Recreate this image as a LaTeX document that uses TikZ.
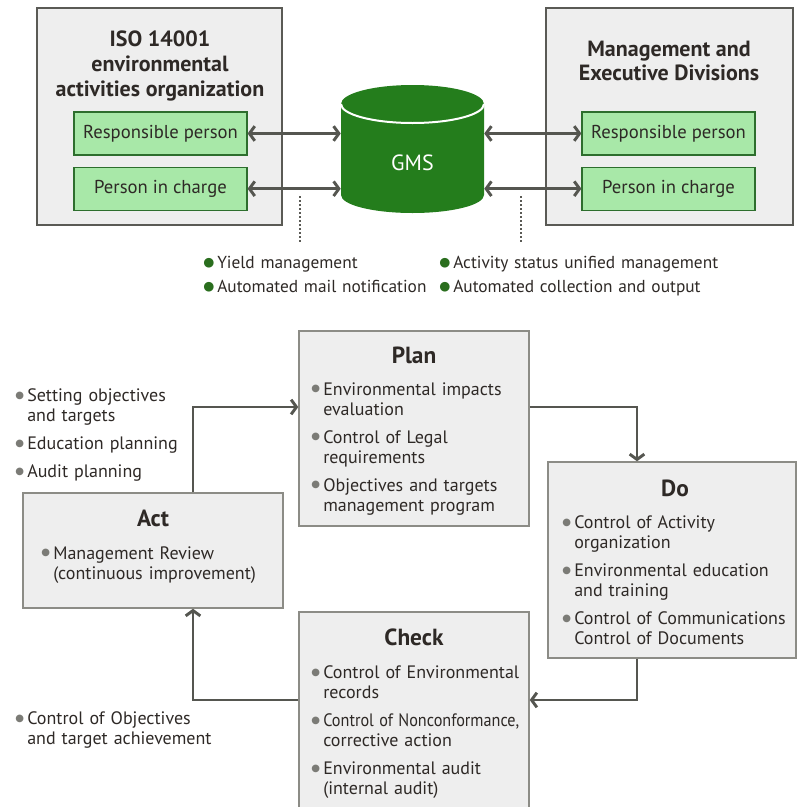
\documentclass[tikz,border=0pt]{standalone}
\usepackage{fontspec}
\usepackage{graphicx}
\setmainfont{PT Sans}
\newfontfamily\symfont{DejaVu Sans}
\usetikzlibrary{arrows.meta}
\usetikzlibrary{positioning,fit,calc}

\definecolor{boxGray}{HTML}{EEEEEE}
\definecolor{edgeGray}{HTML}{5A5A55}
\definecolor{lineGray}{HTML}{8C8C86}
\definecolor{arrowGray}{HTML}{555650}
\definecolor{personGreen}{HTML}{A8E8A8}
\definecolor{personEdge}{HTML}{2D6E2D}
\definecolor{gmsGreen}{HTML}{247D1C}
\definecolor{dotGreen}{HTML}{2A6E1E}
\definecolor{dotGray}{HTML}{7B7B76}
\definecolor{textDark}{HTML}{2E2926}

\newcommand{\grayItem}[1]{\hangindent=9pt\hangafter=1\noindent
	\makebox[9pt][l]{\raisebox{2.3pt}{\textcolor{dotGray}{\symfont\fontsize{7.5}{7.5}\selectfont ●}}}#1\par\vskip 6pt}
\newcommand{\greenItem}[1]{\noindent
	\makebox[10.5pt][l]{\raisebox{1.6pt}{\textcolor{dotGreen}{\symfont\fontsize{9.5}{9.5}\selectfont ●}}}#1\par}

\tikzset{outerBox/.style={rectangle,draw=edgeGray,fill=boxGray,line width=1.1pt,inner sep=0pt},
		personBox/.style={rectangle,draw=personEdge,fill=personGreen,line width=0.9pt,inner sep=0pt,
		                  minimum width=129.75pt,minimum height=32.25pt,
		                  text=textDark,font=\fontsize{14}{16}\selectfont},
		cycleBox/.style={rectangle,draw=lineGray,fill=boxGray,line width=1.1pt,inner sep=0pt},
		boxTitle/.style={text=textDark,font=\bfseries\fontsize{16.5}{18.5}\selectfont,align=center,inner sep=0pt},
		cycleTitle/.style={text=textDark,font=\bfseries\fontsize{17.5}{20}\selectfont,inner sep=0pt},
		gmsLabel/.style={text=white,font=\fontsize{16.5}{18}\selectfont,inner sep=0pt},
		itemList/.style={text=textDark,font=\fontsize{13.5}{15}\selectfont,text width=200pt,
		                 align=left,inner sep=0pt,anchor=north west},
		noteList/.style={text=textDark,font=\fontsize{13}{18}\selectfont,text width=220pt,
		                 align=left,inner sep=0pt,anchor=north west},
		dualArrow/.style={{Straight Barb[length=4pt,width=11pt]}-{Straight Barb[length=4pt,width=11pt]},
		                  line width=2.2pt,draw=arrowGray},
		flowArrow/.style={-{Straight Barb[length=4pt,width=11pt]},line width=2.2pt,draw=arrowGray},
		guide/.style={draw=edgeGray,line width=0.8pt,dash pattern=on 1.5pt off 1.5pt}}

\begin{document}
\begin{tikzpicture}[x=0.75pt,y=-0.75pt]
	\useasboundingbox (0,0) rectangle (797,807);
	% organization boxes
	\node [outerBox, fit={(37,8) (282,225)}] (iso) {};
	\node [boxTitle] (isoTitle) at (160,66) {ISO 14001\\environmental\\activities organization};
	\node [personBox] (isoResp) at (160.5,133.5) {Responsible person};
	\node [personBox, below=8.25pt of isoResp] (isoCharge) {Person in charge};

	\node [outerBox, fit={(546,8) (793,225)}] (mgmt) {};
	\node [boxTitle] (mgmtTitle) at (669,61) {Management and\\Executive Divisions};
	\node [personBox] (mgmtResp) at (668.5,133.5) {Responsible person};
	\node [personBox, below=8.25pt of mgmtResp] (mgmtCharge) {Person in charge};

	% GMS cylinder
	\fill [gmsGreen] (341,104) -- (341,195) arc[start angle=180,end angle=0,x radius=71.5,y radius=18]
		-- (484,104) arc[start angle=0,end angle=-180,x radius=71.5,y radius=19] -- cycle;
	\draw [white,line width=1.5pt] (341,104) arc[start angle=180,end angle=0,x radius=71.5,y radius=19];
	\node [gmsLabel, minimum width=107.25pt] (gms) at (412.5,163) {GMS};

	%edges
	\draw [dualArrow] (isoResp) -- (isoResp -| gms.west);
	\draw [dualArrow] (isoCharge) -- (isoCharge -| gms.west);
	\draw [dualArrow] (gms.east |- mgmtResp) -- (mgmtResp);
	\draw [dualArrow] (gms.east |- mgmtCharge) -- (mgmtCharge);

	\coordinate (guideL) at (300,196);
	\coordinate (guideR) at (521,196);
	\draw [guide] (guideL) -- ++(0,47);
	\draw [guide] (guideR) -- ++(0,47);

	\node [noteList] (notesL) at (203,256) {\greenItem{Yield management}\greenItem{Automated mail notification}};
	\node [noteList] (notesR) at (439,256) {\greenItem{Activity status unified management}\greenItem{Automated collection and output}};

	% PDCA boxes
	\node [cycleBox, fit={(299,331) (529,526)}] (plan) {};
	\node [cycleTitle] (planTitle) at (414,355) {Plan};
	\node [itemList] (planItems) at (311,382) {\grayItem{Environmental impacts\newline evaluation}%
		\grayItem{Control of Legal\newline requirements}\grayItem{Objectives and targets\newline management program}};

	\node [cycleBox, fit={(548,462) (796,658)}] (do) {};
	\node [cycleTitle] (doTitle) at (675,488) {Do};
	\node [itemList] (doItems) at (562,515) {\grayItem{Control of Activity\newline organization}%
		\grayItem{Environmental education\newline and training}\grayItem{Control of Communications\newline Control of Documents}};

	\node [cycleBox, fit={(299,612) (529,812)}] (check) {};
	\node [cycleTitle] (checkTitle) at (414,637) {Check};
	\node [itemList] (checkItems) at (311,665) {\grayItem{Control of Environmental\newline records}%
		\grayItem{\scalebox{0.9}[1]{Control of Nonconformance,}\newline corrective action}%
		\grayItem{Environmental audit\newline (internal audit)}};

	\node [cycleBox, fit={(23,493) (283,608)}] (act) {};
	\node [cycleTitle] (actTitle) at (153,518) {Act};
	\node [itemList] (actItems) at (41,546) {\grayItem{Management Review\newline (continuous improvement)}};

	\node [itemList] (actNotes) at (15,388) {\grayItem{Setting objectives\newline and targets}%
		\grayItem{Education planning}\grayItem{Audit planning}};
	\node [itemList] (checkNotes) at (15,711) {\grayItem{Control of Objectives\newline and target achievement}};

	%cycle
	\coordinate (actUp) at (193,407);
	\coordinate (doIn) at (637,407);
	\coordinate (checkIn) at (637,700);
	\coordinate (actIn) at (193,700);
	\draw [flowArrow] (actUp |- act.north) -- (actUp) -- (actUp -| plan.west);
	\draw [flowArrow] (plan.east |- doIn) -- (doIn) -- (doIn |- do.north);
	\draw [flowArrow] (checkIn |- do.south) -- (checkIn) -- (checkIn -| check.east);
	\draw [flowArrow] (check.west |- actIn) -- (actIn) -- (actIn |- act.south);
\end{tikzpicture}
\end{document}
